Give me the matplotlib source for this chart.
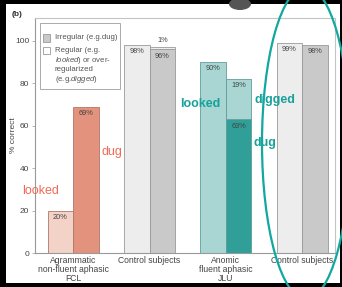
import numpy as np
import matplotlib.pyplot as plt
from matplotlib.patches import Rectangle, Ellipse

plt.rcParams['font.family'] = ['Liberation Sans', 'DejaVu Sans']
plt.rcParams['mathtext.fontset'] = 'custom'
plt.rcParams['mathtext.rm'] = 'Liberation Sans'
plt.rcParams['mathtext.it'] = 'Liberation Sans:italic'

# data
groups = ['Agrammatic\nnon-fluent aphasic\nFCL', 'Control subjects',
          'Anomic\nfluent aphasic\nJLU', 'Control subjects']
regular = [20, 98, 90, 99]          # left bar of each pair
irregular = [69, 96, 63, 98]        # right bar of each pair
overreg = [0, 1, 19, 0]             # stacked on the right bar
reg_colors = ['#f3d3c7', '#ededed', '#a9d6d3', '#ededed']
irr_colors = ['#e3927d', '#c9c9c9', '#2f9f98', '#c9c9c9']
edge_colors = ['#b0786a', '#9a9a9a', '#5e9e9a', '#9a9a9a']
ytick_vals = [0, 20, 40, 60, 80, 100]

W, H = 342, 287
fig = plt.figure(figsize=(W / 100, H / 100), dpi=100, facecolor='black')

# white page
fig.patches.append(Rectangle((6 / W, 4 / H), 334 / W, 279 / H, transform=fig.transFigure,
                             facecolor='white', edgecolor='none', zorder=0))
# dark blob at top (cut-off photo artefact)
fig.patches.append(Ellipse((240 / W, 1 - 4 / H), 22 / W, 12 / H, transform=fig.transFigure,
                           facecolor='#555555', edgecolor='none', zorder=1))

ax = fig.add_axes([35 / W, 34 / H, 300 / W, 235 / H])
ax.set_zorder(2)
ax.set_facecolor('white')

x = np.arange(len(groups))
bw = 0.335
lab_fs = 5.3
for i in range(len(groups)):
    ax.bar(x[i] - bw / 2, regular[i], bw, color=reg_colors[i], edgecolor=edge_colors[i], linewidth=0.6)
    ax.bar(x[i] + bw / 2, irregular[i], bw, color=irr_colors[i], edgecolor=edge_colors[i], linewidth=0.6)
    if overreg[i] > 0:
        ax.bar(x[i] + bw / 2, overreg[i], bw, bottom=irregular[i], color=reg_colors[i],
               edgecolor=edge_colors[i], linewidth=0.6)
    ax.text(x[i] - bw / 2, regular[i] - 1.5, f'{regular[i]}%', ha='center', va='top',
            fontsize=lab_fs, color='#444444')
    ax.text(x[i] + bw / 2, irregular[i] - 1.5, f'{irregular[i]}%', ha='center', va='top',
            fontsize=lab_fs, color='#444444')

# overregularization labels
ax.text(x[1] + bw / 2, irregular[1] + overreg[1] + 1.5, f'{overreg[1]}%', ha='center', va='bottom',
        fontsize=lab_fs, color='#444444')
ax.text(x[2] + bw / 2, irregular[2] + overreg[2] - 1.5, f'{overreg[2]}%', ha='center', va='top',
        fontsize=lab_fs, color='#444444')

ax.set_xlim(-0.5, 3.43)
ax.set_ylim(0, 110.8)
ax.set_xticks(x)
ax.set_xticklabels(groups, fontsize=6.2, color='#444444', linespacing=1.05)
ax.set_yticks(ytick_vals)
ax.set_yticklabels([str(v) for v in ytick_vals], fontsize=6, color='#444444')
ax.tick_params(axis='x', length=0, pad=2)
ax.tick_params(axis='y', length=2, width=0.5, color='#999999', pad=2)
for s in ax.spines.values():
    s.set_color('#c4c4c4')
    s.set_linewidth(0.8)
ax.spines['left'].set_color('#999999')
ax.spines['bottom'].set_color('#999999')
ax.set_ylabel('% correct', fontsize=6, color='#444444')
ax.yaxis.set_label_coords(-0.06, 0.5)

# legend box (drawn by hand so the swatch sits at the first text line)
tr = ax.transAxes
ax.add_patch(Rectangle((0.017, 0.70), 0.266, 0.279, transform=tr, facecolor='white',
                       edgecolor='#aaaaaa', linewidth=0.7, zorder=6))
ax.add_patch(Rectangle((0.027, 0.900), 0.024, 0.030, transform=tr, facecolor='#c9c9c9',
                       edgecolor='#999999', linewidth=0.6, zorder=7))
ax.add_patch(Rectangle((0.027, 0.845), 0.024, 0.030, transform=tr, facecolor='white',
                       edgecolor='#999999', linewidth=0.6, zorder=7))
leg_fs = 5.6
ax.text(0.066, 0.916, 'Irregular (e.g.dug)', transform=tr, fontsize=leg_fs, color='#555555',
        va='center', zorder=8)
ax.text(0.066, 0.877, 'Regular (e.g.\n$\\it{looked}$) or over-\nregularized\n(e.g.$\\it{digged}$)',
        transform=tr, fontsize=leg_fs, color='#555555', va='top', linespacing=1.12, zorder=8)

# handwritten-style annotations
fig.text(17 / W, 1 - 15 / H, '(b)', fontsize=6, fontweight='bold', color='#333333',
         ha='center', va='center', zorder=4)
fig.text(112 / W, 1 - 152 / H, 'dug', fontsize=9, color='#f06a55', ha='center', va='center', zorder=4)
fig.text(41 / W, 1 - 191 / H, 'looked', fontsize=9, color='#f06a55', ha='center', va='center', zorder=4)
teal = '#17a19a'
fig.text(200 / W, 1 - 104 / H, 'looked', fontsize=9, fontweight='bold', color=teal, ha='center', va='center', zorder=4)
fig.text(275 / W, 1 - 100 / H, 'digged', fontsize=9, fontweight='bold', color=teal, ha='center', va='center', zorder=4)
fig.text(265 / W, 1 - 143 / H, 'dug', fontsize=9, fontweight='bold', color=teal, ha='center', va='center', zorder=4)

fig.patches.append(Ellipse((306 / W, 1 - 143 / H), 88 / W, 312 / H, transform=fig.transFigure,
                           facecolor='none', edgecolor='#12a8a0', linewidth=1.6, zorder=5))

fig.savefig('out.png', dpi=100, facecolor='black')
